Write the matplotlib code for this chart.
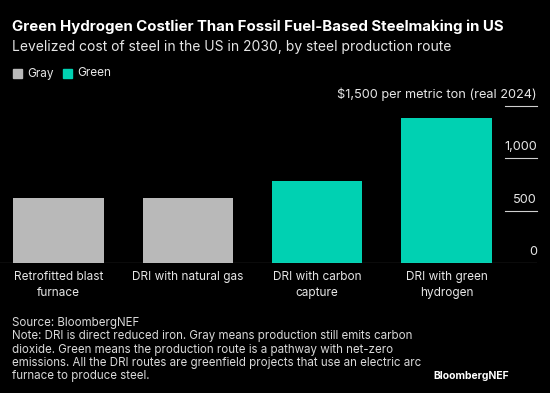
import matplotlib.pyplot as plt
from matplotlib.patches import Rectangle

# data
routes = ['Retrofitted blast\nfurnace', 'DRI with natural gas',
          'DRI with carbon\ncapture', 'DRI with green\nhydrogen']
cost = [620, 620, 780, 1380]
kind = ['Gray', 'Gray', 'Green', 'Green']
yticks = [0, 500, 1000, 1500]
ytick_labels = ['0', '500', '1,000', '$1,500 per metric ton (real 2024)']

colors = {'Gray': '#b9b9b9', 'Green': '#00d1b2'}
bg = '#000000'
plt.rcParams['font.family'] = ['Inter', 'DejaVu Sans']

W, H = 550, 393
fig = plt.figure(figsize=(5.5, 3.93), dpi=100, facecolor=bg)

# axes placed in pixel terms: left 0, right 537, baseline 263, 1500 at 105.5
ax = fig.add_axes([0 / W, 1 - 263 / H, 537 / W, (263 - 105.5) / H])
ax.set_facecolor(bg)
ax.bar(range(len(cost)), cost, width=0.70,
       color=[colors[k] for k in kind], zorder=2)
ax.set_xlim(-0.452, 3.70)
ax.set_ylim(0, 1500)
for s in ax.spines.values():
    s.set_visible(False)
ax.axhline(0, color='#d0d0d0', lw=0.8, zorder=3)
ax.set_xticks([])
ax.set_yticks([])

# short right-hand gridlines and labels sitting above them
for v, lab in zip(yticks, ytick_labels):
    if v > 0:
        ax.plot([3.45, 3.70], [v, v], color='#d0d0d0', lw=0.8, clip_on=False)
    ax.annotate(lab, xy=(3.70, v), xytext=(0, 3.5), textcoords='offset points',
                ha='right', va='bottom', color='#e6e6e6', fontsize=9.2)

for i, r in enumerate(routes):
    ax.annotate(r, xy=(i, 0), xytext=(0, -6), textcoords='offset points',
                ha='center', va='top', color='#e6e6e6', fontsize=8.5,
                linespacing=1.45)

# title block
fig.text(12 / W, 1 - 27 / H, 'Green Hydrogen Costlier Than Fossil Fuel-Based Steelmaking in US',
         color='white', fontsize=10.8, fontweight='bold', va='center')
fig.text(12 / W, 1 - 47 / H, 'Levelized cost of steel in the US in 2030, by steel production route',
         color='#e6e6e6', fontsize=10.0, va='center')

# legend
for k, lx in zip(['Gray', 'Green'], [13, 63]):
    fig.patches.append(Rectangle((lx / W, 1 - 78 / H), 9 / W, 9 / H,
                                 transform=fig.transFigure, color=colors[k]))
    fig.text((lx + 14) / W, 1 - 73.5 / H, k, color='#e6e6e6', fontsize=8.5, va='center')

# footer
note = ('Source: BloombergNEF\n'
        'Note: DRI is direct reduced iron. Gray means production still emits carbon\n'
        'dioxide. Green means the production route is a pathway with net-zero\n'
        'emissions. All the DRI routes are greenfield projects that use an electric arc\n'
        'furnace to produce steel.')
fig.text(12 / W, 1 - 317 / H, note, color='#d9d9d9', fontsize=8.3,
         va='top', linespacing=1.14)
fig.text(509 / W, 1 - 376 / H, 'BloombergNEF', color='white', fontsize=7.5,
         fontweight='bold', ha='right', va='center')

fig.savefig('out.png', dpi=100, facecolor=bg)
